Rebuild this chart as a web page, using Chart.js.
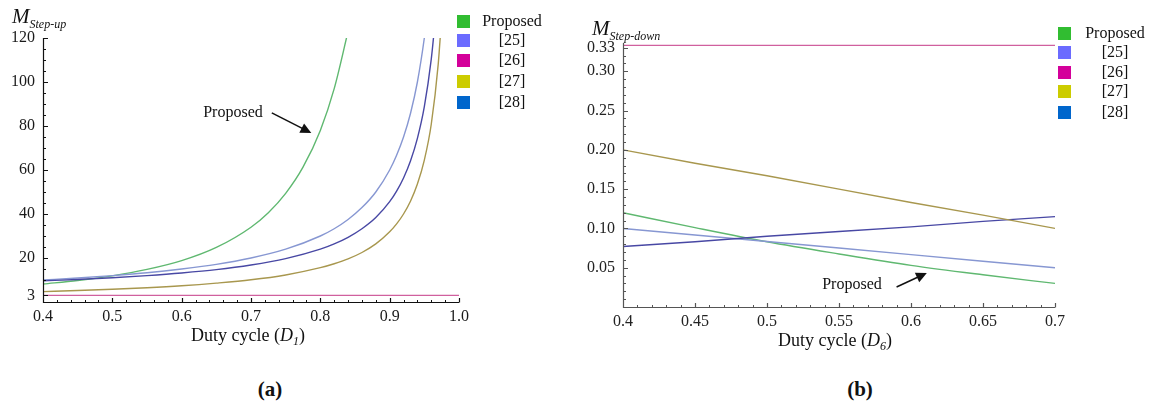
<!DOCTYPE html>
<html>
<head>
<meta charset="utf-8">
<script src="https://cdn.jsdelivr.net/npm/chart.js@4.4.1/dist/chart.umd.min.js"></script>
<style>
  body { margin: 0; background: #fff; width: 1151px; height: 405px; position: relative; overflow: hidden; font-family: "Liberation Serif", "Times New Roman", serif; color: #111; }
  canvas { position: absolute; top: 0; }
  #upChart { left: 0; }
  #downChart { left: 560px; }
  .lbl { position: absolute; white-space: nowrap; line-height: 1; }
  .sw { position: absolute; width: 13px; height: 13px; }
  .lt { position: absolute; width: 90px; text-align: center; font-size: 16px; line-height: 1; }
  .cap { position: absolute; top: 379px; font-weight: bold; font-size: 21px; width: 60px; text-align: center; line-height: 1; }
</style>
</head>
<body>
<canvas id="upChart" width="560" height="360"></canvas>
<canvas id="downChart" width="591" height="360"></canvas>

<div class="lbl" style="left:12px; top:6px;"><i style="font-size:21px;">M</i><i style="font-size:12px; position:relative; top:5px;">Step-up</i></div>
<div class="lbl" style="left:592px; top:18px;"><i style="font-size:21px;">M</i><i style="font-size:12px; position:relative; top:5px;">Step-down</i></div>
<div class="lbl" style="left:191px; top:326px; font-size:18px;">Duty cycle (<i>D</i><i style="font-size:12px; position:relative; top:4px;">1</i>)</div>
<div class="lbl" style="left:778px; top:331px; font-size:18px;">Duty cycle (<i>D</i><i style="font-size:12px; position:relative; top:4px;">6</i>)</div>
<div class="cap" style="left:240px;">(a)</div>
<div class="cap" style="left:830px;">(b)</div>

<script>
/* series names + colours */
const seriesNames = ["Proposed", "[25]", "[26]", "[27]", "[28]"];
const legendColors = ["#31bd31", "#6b6bff", "#d4009a", "#cccc00", "#0066cc"];
const lineColors = ["#5fb870", "#8797d2", "#d0609e", "#a8974e", "#4848a4"];

/* (a) step-up gain vs D1 */
const upProposedD = [0.40, 0.45, 0.50, 0.55, 0.60, 0.65, 0.70, 0.725, 0.75, 0.775, 0.80, 0.82, 0.84];
const upProposedM = [8.2, 9.8, 11.9, 14.8, 18.8, 24.8, 34, 40.6, 49.4, 61.3, 78, 97, 123];
const upRef25D = [0.40, 0.45, 0.50, 0.55, 0.60, 0.65, 0.70, 0.75, 0.80, 0.82, 0.84, 0.86, 0.88, 0.90, 0.91, 0.92, 0.93, 0.94, 0.95, 0.955];
const upRef25M = [10, 10.9, 12, 13.3, 15, 17.1, 20, 24, 30, 33.3, 37.5, 42.9, 50, 60, 66.7, 75, 85.7, 100, 120, 133];
const upRef26D = [0.40, 1.00];
const upRef26M = [3, 3];
const upRef27D = [0.40, 0.45, 0.50, 0.55, 0.60, 0.65, 0.70, 0.75, 0.80, 0.82, 0.84, 0.86, 0.88, 0.90, 0.91, 0.92, 0.93, 0.94, 0.95, 0.96, 0.97, 0.975];
const upRef27M = [4.7, 5.2, 5.8, 6.5, 7.4, 8.6, 10.1, 12.3, 15.6, 17.4, 19.6, 22.5, 26.4, 31.9, 35.5, 40.0, 45.8, 53.6, 64.5, 80.8, 108, 129.7];
const upRef28D = [0.40, 0.45, 0.50, 0.55, 0.60, 0.65, 0.70, 0.75, 0.80, 0.82, 0.84, 0.86, 0.88, 0.90, 0.91, 0.92, 0.93, 0.94, 0.95, 0.96, 0.965];
const upRef28M = [9.6, 10.25, 11.0, 12.0, 13.2, 14.7, 16.8, 19.7, 24.0, 26.4, 29.4, 33.3, 38.4, 45.6, 50.4, 56.4, 64.1, 74.4, 88.8, 110.4, 125.8];

const upXTicks = [0.4, 0.5, 0.6, 0.7, 0.8, 0.9, 1.0];
const upXLabels = ["0.4", "0.5", "0.6", "0.7", "0.8", "0.9", "1.0"];
const upYTicks = [3, 20, 40, 60, 80, 100, 120];
const upYLabels = ["3", "20", "40", "60", "80", "100", "120"];

/* (b) step-down gain vs D6 */
const downD = [0.40, 0.45, 0.50, 0.55, 0.60, 0.65, 0.70];
const downProposed = [0.120, 0.101, 0.083, 0.0675, 0.053, 0.041, 0.030];
const downRef25 = [0.100, 0.0917, 0.0833, 0.075, 0.0667, 0.0583, 0.050];
const downRef26 = [0.333, 0.333, 0.333, 0.333, 0.333, 0.333, 0.333];
const downRef27 = [0.200, 0.183, 0.167, 0.150, 0.133, 0.117, 0.100];
const downRef28 = [0.077, 0.083, 0.090, 0.096, 0.102, 0.109, 0.115];

const downXTicks = [0.4, 0.45, 0.5, 0.55, 0.6, 0.65, 0.7];
const downXLabels = ["0.4", "0.45", "0.5", "0.55", "0.6", "0.65", "0.7"];
const downYTicks = [0.05, 0.10, 0.15, 0.20, 0.25, 0.30, 0.33];
const downYLabels = ["0.05", "0.10", "0.15", "0.20", "0.25", "0.30", "0.33"];

/* helpers */
function toPoints(xs, ys) {
  return xs.map((x, i) => ({ x: x, y: ys[i] }));
}

function lineSet(label, color, points, curved) {
  return {
    label: label,
    data: points,
    borderColor: color,
    backgroundColor: color,
    borderWidth: 1.4,
    pointRadius: 0,
    fill: false,
    cubicInterpolationMode: curved ? "monotone" : "default",
    tension: 0
  };
}

/* axes drawn Mathematica-style: ticks point inward */
const mathAxes = {
  id: "mathAxes",
  afterDatasetsDraw(chart, args, opts) {
    const { ctx, chartArea, scales } = chart;
    const xs = scales.x;
    const ys = scales.y;
    const left = Math.round(chartArea.left) + 0.5;
    const bottom = Math.round(chartArea.bottom) + 0.5;

    ctx.save();
    ctx.strokeStyle = opts.color;
    ctx.lineWidth = 1.2;
    ctx.beginPath();
    ctx.moveTo(left, chartArea.top);
    ctx.lineTo(left, bottom);
    ctx.lineTo(chartArea.right, bottom);

    opts.yMajor.forEach(v => {
      const py = Math.round(ys.getPixelForValue(v)) + 0.5;
      ctx.moveTo(left, py);
      ctx.lineTo(left + 4.5, py);
    });
    opts.xMajor.forEach(v => {
      const px = Math.round(xs.getPixelForValue(v)) + 0.5;
      ctx.moveTo(px, bottom);
      ctx.lineTo(px, bottom - 4.5);
    });
    ctx.stroke();

    ctx.lineWidth = 1;
    ctx.beginPath();
    for (let v = opts.yMinorStart; v <= ys.max + 1e-9; v += opts.yMinorStep) {
      if (opts.yMajor.some(m => Math.abs(m - v) < opts.yMinorStep / 2)) continue;
      const py = Math.round(ys.getPixelForValue(v)) + 0.5;
      ctx.moveTo(left, py);
      ctx.lineTo(left + 2.5, py);
    }
    for (let v = xs.min; v <= xs.max + 1e-9; v += opts.xMinorStep) {
      if (opts.xMajor.some(m => Math.abs(m - v) < opts.xMinorStep / 2)) continue;
      const px = Math.round(xs.getPixelForValue(v)) + 0.5;
      ctx.moveTo(px, bottom);
      ctx.lineTo(px, bottom - 2.5);
    }
    ctx.stroke();
    ctx.restore();
  }
};

/* "Proposed" label with arrow */
const arrowNote = {
  id: "arrowNote",
  afterDatasetsDraw(chart, args, opts) {
    const { ctx, scales } = chart;
    const px = v => scales.x.getPixelForValue(v);
    const py = v => scales.y.getPixelForValue(v);

    ctx.save();
    ctx.fillStyle = "#111";
    ctx.strokeStyle = "#111";
    ctx.font = "16px 'Liberation Serif', serif";
    ctx.textAlign = "center";
    ctx.textBaseline = "middle";
    ctx.fillText(opts.text, px(opts.textAt[0]), py(opts.textAt[1]));

    const x0 = px(opts.from[0]), y0 = py(opts.from[1]);
    const x1 = px(opts.to[0]), y1 = py(opts.to[1]);
    const ang = Math.atan2(y1 - y0, x1 - x0);
    const head = 12;
    ctx.lineWidth = 1.5;
    ctx.beginPath();
    ctx.moveTo(x0, y0);
    ctx.lineTo(x1 - Math.cos(ang) * head * 0.8, y1 - Math.sin(ang) * head * 0.8);
    ctx.stroke();
    ctx.beginPath();
    ctx.moveTo(x1, y1);
    ctx.lineTo(x1 - head * Math.cos(ang - 0.45), y1 - head * Math.sin(ang - 0.45));
    ctx.lineTo(x1 - head * Math.cos(ang + 0.45), y1 - head * Math.sin(ang + 0.45));
    ctx.closePath();
    ctx.fill();
    ctx.restore();
  }
};

function makeScale(min, max, tickValues, tickLabels, size, isX, color) {
  return {
    type: "linear",
    min: min,
    max: max,
    grid: { display: false, drawTicks: false },
    border: { display: false },
    afterBuildTicks: scale => {
      scale.ticks = tickValues.map(v => ({ value: v }));
    },
    afterFit: scale => {
      if (isX) scale.height = size;
      else scale.width = size;
    },
    ticks: {
      autoSkip: false,
      maxRotation: 0,
      padding: isX ? 5 : 8,
      color: color,
      font: { family: "'Liberation Serif', serif", size: 16 },
      callback: (value, index) => tickLabels[index]
    }
  };
}

/* chart (a) */
const upChart = new Chart(document.querySelector("#upChart"), {
  type: "line",
  data: {
    datasets: [
      lineSet(seriesNames[3], lineColors[3], toPoints(upRef27D, upRef27M), true),
      lineSet(seriesNames[2], lineColors[2], toPoints(upRef26D, upRef26M), false),
      lineSet(seriesNames[4], lineColors[4], toPoints(upRef28D, upRef28M), true),
      lineSet(seriesNames[1], lineColors[1], toPoints(upRef25D, upRef25M), true),
      lineSet(seriesNames[0], lineColors[0], toPoints(upProposedD, upProposedM), true)
    ]
  },
  options: {
    responsive: false,
    animation: false,
    devicePixelRatio: 1,
    layout: { padding: { top: 38, right: 101, left: 0, bottom: 0 } },
    scales: {
      x: makeScale(0.4, 1.0, upXTicks, upXLabels, 58, true, "#1a1a1a"),
      y: makeScale(0, 120, upYTicks, upYLabels, 43, false, "#1a1a1a")
    },
    plugins: {
      legend: { display: false },
      tooltip: { enabled: false },
      mathAxes: {
        color: "#111",
        xMajor: upXTicks, yMajor: upYTicks,
        xMinorStep: 0.02, yMinorStep: 5, yMinorStart: 5
      },
      arrowNote: {
        text: "Proposed",
        textAt: [0.674, 86],
        from: [0.73, 86],
        to: [0.787, 76.8]
      }
    }
  },
  plugins: [mathAxes, arrowNote]
});

/* chart (b) */
const downChart = new Chart(document.querySelector("#downChart"), {
  type: "line",
  data: {
    datasets: [
      lineSet(seriesNames[3], lineColors[3], toPoints(downD, downRef27), false),
      lineSet(seriesNames[2], lineColors[2], toPoints(downD, downRef26), false),
      lineSet(seriesNames[4], lineColors[4], toPoints(downD, downRef28), false),
      lineSet(seriesNames[1], lineColors[1], toPoints(downD, downRef25), false),
      lineSet(seriesNames[0], lineColors[0], toPoints(downD, downProposed), true)
    ]
  },
  options: {
    responsive: false,
    animation: false,
    devicePixelRatio: 1,
    layout: { padding: { top: 43, right: 96, left: 0, bottom: 0 } },
    scales: {
      x: makeScale(0.4, 0.7, downXTicks, downXLabels, 53, true, "#222"),
      y: makeScale(0, 0.336, downYTicks, downYLabels, 63, false, "#222")
    },
    plugins: {
      legend: { display: false },
      tooltip: { enabled: false },
      mathAxes: {
        color: "#555",
        xMajor: downXTicks, yMajor: downYTicks,
        xMinorStep: 0.01, yMinorStep: 0.01, yMinorStart: 0.01
      },
      arrowNote: {
        text: "Proposed",
        textAt: [0.559, 0.028],
        from: [0.59, 0.0254],
        to: [0.611, 0.0433]
      }
    }
  },
  plugins: [mathAxes, arrowNote]
});

/* legends */
function buildLegend(swatchLeft, textCenter, rowTops) {
  seriesNames.forEach((name, i) => {
    const sw = document.createElement("div");
    sw.className = "sw";
    sw.style.left = swatchLeft + "px";
    sw.style.top = rowTops[i] + "px";
    sw.style.background = legendColors[i];
    document.body.appendChild(sw);

    const txt = document.createElement("div");
    txt.className = "lt";
    txt.style.left = (textCenter - 45) + "px";
    txt.style.top = (rowTops[i] - 2) + "px";
    txt.textContent = name;
    document.body.appendChild(txt);
  });
}

buildLegend(457, 512, [15, 34, 54, 75, 96]);
buildLegend(1058, 1115, [27, 46, 66, 85, 106]);
</script>
</body>
</html>
